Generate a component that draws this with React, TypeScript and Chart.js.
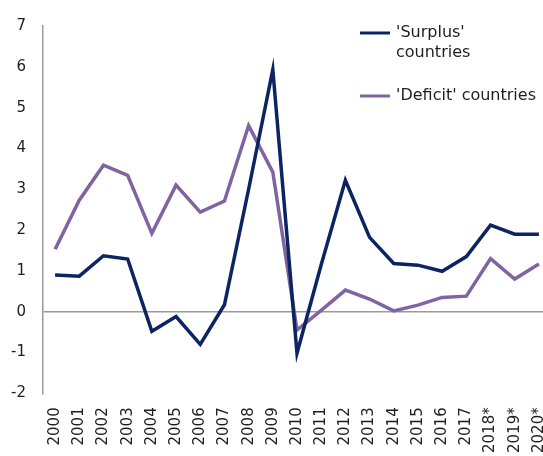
import React, { useEffect, useRef } from "react";
import { Chart, registerables } from "chart.js";

Chart.register(...registerables);

const years = [
  "2000", "2001", "2002", "2003", "2004", "2005", "2006", "2007", "2008", "2009",
  "2010", "2011", "2012", "2013", "2014", "2015", "2016", "2017", "2018*", "2019*", "2020*",
];

const surplus = [
  0.9, 0.87, 1.37, 1.29, -0.48, -0.12, -0.8, 0.17, 3.0, 5.93,
  -1.02, 1.15, 3.22, 1.82, 1.18, 1.14, 0.99, 1.35, 2.12, 1.9, 1.9,
];

const deficit = [
  1.53, 2.73, 3.59, 3.34, 1.92, 3.1, 2.44, 2.71, 4.56, 3.42,
  -0.45, 0.03, 0.53, 0.31, 0.02, 0.16, 0.35, 0.38, 1.3, 0.8, 1.17,
];

const surplusLabel = ["'Surplus'", "countries"];
const deficitLabel = ["'Deficit' countries"];

const yTicks = { min: -2, max: 7, step: 1 };

const SURPLUS_COLOR = "#0c2461";
const DEFICIT_COLOR = "#8064a2";
const AXIS_COLOR = "#9a9a9a";
const TEXT_COLOR = "#1e1e1e";
const FONT = "'DejaVu Sans', Verdana, sans-serif";

const legendPlugin = {
  id: "customLegend",
  afterDraw(chart: any) {
    const ctx = chart.ctx;
    const items = [
      { color: SURPLUS_COLOR, lines: surplusLabel, y: 33 },
      { color: DEFICIT_COLOR, lines: deficitLabel, y: 96 },
    ];
    ctx.save();
    ctx.font = `16px ${FONT}`;
    ctx.textBaseline = "middle";
    ctx.textAlign = "left";
    items.forEach((it) => {
      ctx.strokeStyle = it.color;
      ctx.lineWidth = 3;
      ctx.beginPath();
      ctx.moveTo(360, it.y);
      ctx.lineTo(390, it.y);
      ctx.stroke();
      ctx.fillStyle = TEXT_COLOR;
      it.lines.forEach((l, i) => ctx.fillText(l, 396, it.y + i * 20));
    });
    ctx.restore();
  },
};

export default function App() {
  const ref = useRef<HTMLCanvasElement | null>(null);

  useEffect(() => {
    if (!ref.current) return;
    const chart = new Chart(ref.current, {
      type: "line",
      data: {
        labels: years,
        datasets: [
          {
            label: surplusLabel.join(" "),
            data: surplus,
            borderColor: SURPLUS_COLOR,
            backgroundColor: SURPLUS_COLOR,
            borderWidth: 3.5,
            pointRadius: 0,
            tension: 0,
          },
          {
            label: deficitLabel.join(" "),
            data: deficit,
            borderColor: DEFICIT_COLOR,
            backgroundColor: DEFICIT_COLOR,
            borderWidth: 3.5,
            pointRadius: 0,
            tension: 0,
          },
        ],
      },
      options: {
        animation: false,
        responsive: false,
        layout: { padding: { top: 26, left: 0, right: 0, bottom: 0 } },
        plugins: {
          legend: { display: false },
          tooltip: { enabled: false },
        },
        scales: {
          x: {
            offset: true,
            grid: { display: false, drawTicks: false },
            border: { display: false },
            ticks: {
              autoSkip: false,
              minRotation: 90,
              maxRotation: 90,
              padding: 14,
              color: TEXT_COLOR,
              font: { family: FONT, size: 15 },
            },
            afterFit(scale: any) {
              scale.height = 76.7;
              scale.paddingLeft = 0;
              scale.paddingRight = 0;
            },
          },
          y: {
            min: yTicks.min,
            max: yTicks.max,
            grid: {
              drawTicks: false,
              lineWidth: 1.5,
              color: (c: any) => (c.tick && c.tick.value === 0 ? AXIS_COLOR : "rgba(0,0,0,0)"),
            },
            border: { display: true, color: AXIS_COLOR, width: 1.5 },
            ticks: {
              stepSize: yTicks.step,
              padding: 17,
              color: TEXT_COLOR,
              font: { family: FONT, size: 15 },
            },
            afterFit(scale: any) {
              scale.width = 43;
              scale.paddingTop = 0;
              scale.paddingBottom = 0;
            },
          },
        },
      },
      plugins: [legendPlugin],
    });
    return () => chart.destroy();
  }, []);

  return (
    <div
      style={{
        position: "fixed",
        left: 0,
        top: 0,
        width: 543,
        height: 456,
        overflow: "hidden",
        background: "#fff",
      }}
    >
      <canvas ref={ref} width={551} height={470} style={{ display: "block" }} />
    </div>
  );
}
